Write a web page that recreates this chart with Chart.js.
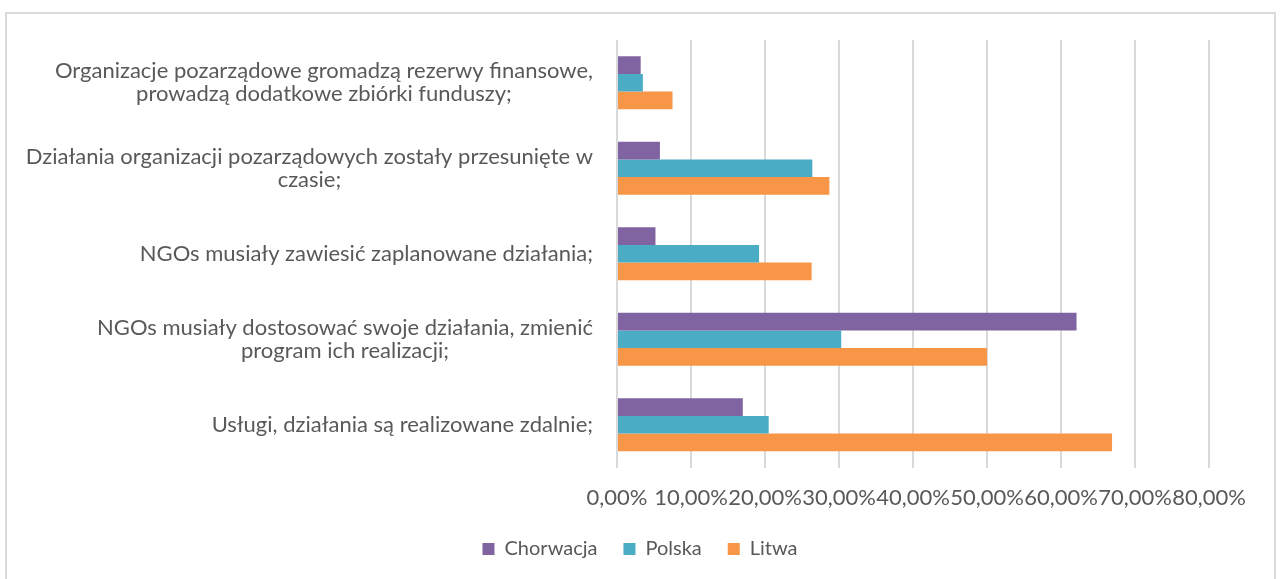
<!DOCTYPE html>
<html>
<head>
<meta charset="utf-8">
<script src="https://cdn.jsdelivr.net/npm/chart.js@4/dist/chart.umd.min.js"></script>
<style>
  html, body { margin: 0; padding: 0; background: #fff; }
  #frame {
    position: absolute; left: 5px; top: 12px; width: 1267px; height: 600px;
    border: 2px solid #dadada;
  }
  #wrap { position: absolute; left: 0; top: 0; width: 1280px; height: 579px; }
</style>
</head>
<body>
<div id="frame"></div>
<div id="wrap"><canvas id="chart" width="1280" height="579"></canvas></div>
<script>
const categories = [
  ['Organizacje pozarządowe gromadzą rezerwy finansowe,', 'prowadzą dodatkowe zbiórki funduszy;'],
  ['Działania organizacji pozarządowych zostały przesunięte w', 'czasie;'],
  ['NGOs musiały zawiesić zaplanowane działania;'],
  ['NGOs musiały dostosować swoje działania, zmienić', 'program ich realizacji;'],
  ['Usługi, działania są realizowane zdalnie;'],
];
const seriesNames = ['Chorwacja', 'Polska', 'Litwa'];
const chorwacja = [3.2, 5.8, 5.2, 62.1, 17.0];
const polska = [3.5, 26.4, 19.2, 30.3, 20.5];
const litwa = [7.5, 28.7, 26.3, 50.0, 66.9];
const xTicks = [0, 10, 20, 30, 40, 50, 60, 70, 80];

const colors = ['#8064A2', '#4BACC6', '#F79646'];
const textColor = '#595959';
const fontFamily = 'Lato, "Open Sans", sans-serif';
const fontSize = 22;

// Excel-style category labels: block right aligned, lines centred inside the block
const categoryLabels = {
  id: 'categoryLabels',
  afterDraw(chart) {
    const { ctx, chartArea } = chart;
    const yScale = chart.scales.y;
    const lineHeight = 23;
    ctx.save();
    ctx.font = `${fontSize}px ${fontFamily}`;
    ctx.fillStyle = textColor;
    ctx.textAlign = 'center';
    ctx.textBaseline = 'middle';
    categories.forEach((lines, i) => {
      const y = yScale.getPixelForValue(i);
      const blockW = Math.max(...lines.map((l) => ctx.measureText(l).width));
      const cx = chartArea.left - 24 - blockW / 2;
      lines.forEach((line, j) => {
        ctx.fillText(line, cx, y + (j - (lines.length - 1) / 2) * lineHeight);
      });
    });
    ctx.restore();
  },
};

const hiddenAxis = (width, position) => ({
  type: 'category',
  position,
  ticks: { display: false },
  grid: { display: false },
  border: { display: false },
  afterFit: (scale) => { scale.width = width; },
});

new Chart(document.getElementById('chart'), {
  type: 'bar',
  data: {
    labels: categories,
    datasets: [chorwacja, polska, litwa].map((values, i) => ({
      label: seriesNames[i],
      data: values,
      backgroundColor: colors[i],
      borderWidth: 0,
      categoryPercentage: 0.62,
      barPercentage: 1.0,
    })),
  },
  options: {
    indexAxis: 'y',
    responsive: false,
    animation: false,
    layout: { padding: { left: 0, right: 0, top: 40, bottom: 10 } },
    scales: {
      x: {
        min: 0,
        max: 80,
        afterBuildTicks: (scale) => { scale.ticks = xTicks.map((v) => ({ value: v })); },
        afterFit: (scale) => { scale.height = 45.5; },
        grid: { color: '#d9d9d9', lineWidth: 2, drawTicks: false },
        border: { display: false },
        ticks: {
          autoSkip: false,
          maxRotation: 0,
          padding: 17,
          color: textColor,
          font: { family: fontFamily, size: fontSize },
          callback: (v) => v.toFixed(2).replace('.', ',') + '%',
        },
      },
      y: hiddenAxis(617, 'left'),
      yRight: hiddenAxis(71, 'right'),
    },
    plugins: {
      tooltip: { enabled: false },
      legend: {
        position: 'bottom',
        labels: {
          boxWidth: 12,
          boxHeight: 12,
          padding: 26,
          color: textColor,
          font: { family: fontFamily, size: 20 },
        },
      },
    },
  },
  plugins: [categoryLabels],
});
</script>
</body>
</html>
